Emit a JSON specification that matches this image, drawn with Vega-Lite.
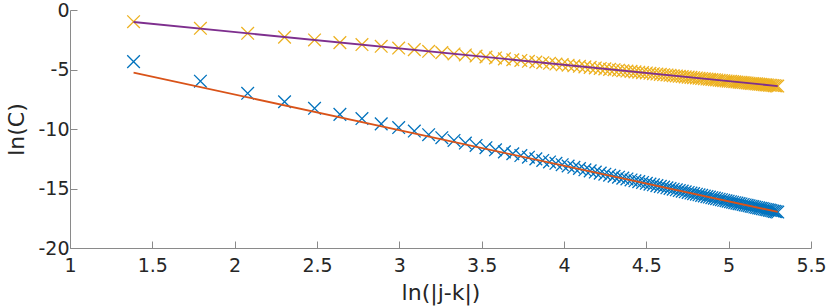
{
  "$schema": "https://vega.github.io/schema/vega-lite/v6.json",
  "width": 741,
  "height": 238,
  "autosize": {"type": "none"},
  "padding": {"left": 70, "top": 10, "right": 19, "bottom": 58},
  "background": "white",
  "config": {
    "view": {"stroke": null},
    "font": "DejaVu Sans",
    "axis": {
      "grid": false,
      "domainColor": "#8a8a8a",
      "tickColor": "#8a8a8a",
      "domainWidth": 1,
      "tickWidth": 1,
      "tickSize": -7,
      "labelFont": "DejaVu Sans",
      "labelFontSize": 19,
      "labelColor": "#262626",
      "titleFont": "DejaVu Sans",
      "titleFontSize": 22,
      "titleFontWeight": "normal",
      "titleColor": "#262626",
      "labelFlush": false,
      "labelOverlap": false
    }
  },
  "datasets": {
    "pts": [
      {"x":1.386,"y":-4.34,"s":"A"},{"x":1.792,"y":-5.98,"s":"A"},{"x":2.079,"y":-7.00,"s":"A"},{"x":2.303,"y":-7.71,"s":"A"},{"x":2.485,"y":-8.26,"s":"A"},{"x":2.639,"y":-8.77,"s":"A"},{"x":2.773,"y":-9.12,"s":"A"},{"x":2.890,"y":-9.57,"s":"A"},{"x":2.996,"y":-9.88,"s":"A"},{"x":3.091,"y":-10.17,"s":"A"},
      {"x":3.178,"y":-10.48,"s":"A"},{"x":3.258,"y":-10.73,"s":"A"},{"x":3.332,"y":-10.96,"s":"A"},{"x":3.401,"y":-11.18,"s":"A"},{"x":3.466,"y":-11.38,"s":"A"},{"x":3.526,"y":-11.57,"s":"A"},{"x":3.584,"y":-11.75,"s":"A"},{"x":3.638,"y":-11.92,"s":"A"},{"x":3.689,"y":-12.08,"s":"A"},{"x":3.738,"y":-12.23,"s":"A"},
      {"x":3.784,"y":-12.37,"s":"A"},{"x":3.829,"y":-12.51,"s":"A"},{"x":3.871,"y":-12.64,"s":"A"},{"x":3.912,"y":-12.77,"s":"A"},{"x":3.951,"y":-12.88,"s":"A"},{"x":3.989,"y":-13.00,"s":"A"},{"x":4.025,"y":-13.11,"s":"A"},{"x":4.060,"y":-13.22,"s":"A"},{"x":4.094,"y":-13.32,"s":"A"},{"x":4.127,"y":-13.43,"s":"A"},
      {"x":4.159,"y":-13.52,"s":"A"},{"x":4.190,"y":-13.62,"s":"A"},{"x":4.220,"y":-13.71,"s":"A"},{"x":4.248,"y":-13.80,"s":"A"},{"x":4.277,"y":-13.88,"s":"A"},{"x":4.304,"y":-13.97,"s":"A"},{"x":4.331,"y":-14.05,"s":"A"},{"x":4.357,"y":-14.13,"s":"A"},{"x":4.382,"y":-14.20,"s":"A"},{"x":4.407,"y":-14.28,"s":"A"},
      {"x":4.431,"y":-14.35,"s":"A"},{"x":4.454,"y":-14.42,"s":"A"},{"x":4.477,"y":-14.49,"s":"A"},{"x":4.500,"y":-14.56,"s":"A"},{"x":4.522,"y":-14.63,"s":"A"},{"x":4.543,"y":-14.69,"s":"A"},{"x":4.564,"y":-14.76,"s":"A"},{"x":4.585,"y":-14.82,"s":"A"},{"x":4.605,"y":-14.88,"s":"A"},{"x":4.625,"y":-14.94,"s":"A"},
      {"x":4.644,"y":-15.00,"s":"A"},{"x":4.663,"y":-15.06,"s":"A"},{"x":4.682,"y":-15.11,"s":"A"},{"x":4.700,"y":-15.17,"s":"A"},{"x":4.718,"y":-15.22,"s":"A"},{"x":4.736,"y":-15.28,"s":"A"},{"x":4.754,"y":-15.33,"s":"A"},{"x":4.771,"y":-15.38,"s":"A"},{"x":4.787,"y":-15.43,"s":"A"},{"x":4.804,"y":-15.48,"s":"A"},
      {"x":4.820,"y":-15.53,"s":"A"},{"x":4.836,"y":-15.58,"s":"A"},{"x":4.852,"y":-15.63,"s":"A"},{"x":4.868,"y":-15.68,"s":"A"},{"x":4.883,"y":-15.72,"s":"A"},{"x":4.898,"y":-15.77,"s":"A"},{"x":4.913,"y":-15.81,"s":"A"},{"x":4.927,"y":-15.86,"s":"A"},{"x":4.942,"y":-15.90,"s":"A"},{"x":4.956,"y":-15.94,"s":"A"},
      {"x":4.970,"y":-15.99,"s":"A"},{"x":4.984,"y":-16.03,"s":"A"},{"x":4.997,"y":-16.07,"s":"A"},{"x":5.011,"y":-16.11,"s":"A"},{"x":5.024,"y":-16.15,"s":"A"},{"x":5.037,"y":-16.19,"s":"A"},{"x":5.050,"y":-16.23,"s":"A"},{"x":5.063,"y":-16.27,"s":"A"},{"x":5.075,"y":-16.30,"s":"A"},{"x":5.088,"y":-16.34,"s":"A"},
      {"x":5.100,"y":-16.38,"s":"A"},{"x":5.112,"y":-16.41,"s":"A"},{"x":5.124,"y":-16.45,"s":"A"},{"x":5.136,"y":-16.49,"s":"A"},{"x":5.147,"y":-16.52,"s":"A"},{"x":5.159,"y":-16.56,"s":"A"},{"x":5.170,"y":-16.59,"s":"A"},{"x":5.182,"y":-16.63,"s":"A"},{"x":5.193,"y":-16.66,"s":"A"},{"x":5.204,"y":-16.69,"s":"A"},
      {"x":5.215,"y":-16.73,"s":"A"},{"x":5.226,"y":-16.76,"s":"A"},{"x":5.236,"y":-16.79,"s":"A"},{"x":5.247,"y":-16.82,"s":"A"},{"x":5.257,"y":-16.85,"s":"A"},{"x":5.268,"y":-16.89,"s":"A"},{"x":5.278,"y":-16.92,"s":"A"},{"x":5.288,"y":-16.95,"s":"A"},{"x":5.298,"y":-16.98,"s":"A"},
      {"x":1.386,"y":-0.98,"s":"B"},{"x":1.792,"y":-1.54,"s":"B"},{"x":2.079,"y":-1.96,"s":"B"},{"x":2.303,"y":-2.28,"s":"B"},{"x":2.485,"y":-2.52,"s":"B"},{"x":2.639,"y":-2.74,"s":"B"},{"x":2.773,"y":-2.90,"s":"B"},{"x":2.890,"y":-3.05,"s":"B"},{"x":2.996,"y":-3.20,"s":"B"},{"x":3.091,"y":-3.33,"s":"B"},
      {"x":3.178,"y":-3.47,"s":"B"},{"x":3.258,"y":-3.58,"s":"B"},{"x":3.332,"y":-3.69,"s":"B"},{"x":3.401,"y":-3.78,"s":"B"},{"x":3.466,"y":-3.87,"s":"B"},{"x":3.526,"y":-3.95,"s":"B"},{"x":3.584,"y":-4.03,"s":"B"},{"x":3.638,"y":-4.11,"s":"B"},{"x":3.689,"y":-4.18,"s":"B"},{"x":3.738,"y":-4.24,"s":"B"},
      {"x":3.784,"y":-4.31,"s":"B"},{"x":3.829,"y":-4.37,"s":"B"},{"x":3.871,"y":-4.43,"s":"B"},{"x":3.912,"y":-4.48,"s":"B"},{"x":3.951,"y":-4.54,"s":"B"},{"x":3.989,"y":-4.59,"s":"B"},{"x":4.025,"y":-4.64,"s":"B"},{"x":4.060,"y":-4.69,"s":"B"},{"x":4.094,"y":-4.73,"s":"B"},{"x":4.127,"y":-4.78,"s":"B"},
      {"x":4.159,"y":-4.82,"s":"B"},{"x":4.190,"y":-4.87,"s":"B"},{"x":4.220,"y":-4.91,"s":"B"},{"x":4.248,"y":-4.95,"s":"B"},{"x":4.277,"y":-4.99,"s":"B"},{"x":4.304,"y":-5.02,"s":"B"},{"x":4.331,"y":-5.06,"s":"B"},{"x":4.357,"y":-5.10,"s":"B"},{"x":4.382,"y":-5.13,"s":"B"},{"x":4.407,"y":-5.16,"s":"B"},
      {"x":4.431,"y":-5.20,"s":"B"},{"x":4.454,"y":-5.23,"s":"B"},{"x":4.477,"y":-5.26,"s":"B"},{"x":4.500,"y":-5.29,"s":"B"},{"x":4.522,"y":-5.32,"s":"B"},{"x":4.543,"y":-5.35,"s":"B"},{"x":4.564,"y":-5.38,"s":"B"},{"x":4.585,"y":-5.41,"s":"B"},{"x":4.605,"y":-5.44,"s":"B"},{"x":4.625,"y":-5.46,"s":"B"},
      {"x":4.644,"y":-5.49,"s":"B"},{"x":4.663,"y":-5.52,"s":"B"},{"x":4.682,"y":-5.54,"s":"B"},{"x":4.700,"y":-5.57,"s":"B"},{"x":4.718,"y":-5.59,"s":"B"},{"x":4.736,"y":-5.62,"s":"B"},{"x":4.754,"y":-5.64,"s":"B"},{"x":4.771,"y":-5.66,"s":"B"},{"x":4.787,"y":-5.69,"s":"B"},{"x":4.804,"y":-5.71,"s":"B"},
      {"x":4.820,"y":-5.73,"s":"B"},{"x":4.836,"y":-5.75,"s":"B"},{"x":4.852,"y":-5.78,"s":"B"},{"x":4.868,"y":-5.80,"s":"B"},{"x":4.883,"y":-5.82,"s":"B"},{"x":4.898,"y":-5.84,"s":"B"},{"x":4.913,"y":-5.86,"s":"B"},{"x":4.927,"y":-5.88,"s":"B"},{"x":4.942,"y":-5.90,"s":"B"},{"x":4.956,"y":-5.92,"s":"B"},
      {"x":4.970,"y":-5.94,"s":"B"},{"x":4.984,"y":-5.96,"s":"B"},{"x":4.997,"y":-5.98,"s":"B"},{"x":5.011,"y":-5.99,"s":"B"},{"x":5.024,"y":-6.01,"s":"B"},{"x":5.037,"y":-6.03,"s":"B"},{"x":5.050,"y":-6.05,"s":"B"},{"x":5.063,"y":-6.07,"s":"B"},{"x":5.075,"y":-6.08,"s":"B"},{"x":5.088,"y":-6.10,"s":"B"},
      {"x":5.100,"y":-6.12,"s":"B"},{"x":5.112,"y":-6.13,"s":"B"},{"x":5.124,"y":-6.15,"s":"B"},{"x":5.136,"y":-6.17,"s":"B"},{"x":5.147,"y":-6.18,"s":"B"},{"x":5.159,"y":-6.20,"s":"B"},{"x":5.170,"y":-6.21,"s":"B"},{"x":5.182,"y":-6.23,"s":"B"},{"x":5.193,"y":-6.24,"s":"B"},{"x":5.204,"y":-6.26,"s":"B"},
      {"x":5.215,"y":-6.28,"s":"B"},{"x":5.226,"y":-6.29,"s":"B"},{"x":5.236,"y":-6.30,"s":"B"},{"x":5.247,"y":-6.32,"s":"B"},{"x":5.257,"y":-6.33,"s":"B"},{"x":5.268,"y":-6.35,"s":"B"},{"x":5.278,"y":-6.36,"s":"B"},{"x":5.288,"y":-6.38,"s":"B"},{"x":5.298,"y":-6.39,"s":"B"}
    ],
    "fit": [
      {"x":1.386,"y":-5.27,"s":"fitA"},{"x":5.298,"y":-16.97,"s":"fitA"},
      {"x":1.386,"y":-1.01,"s":"fitB"},{"x":5.298,"y":-6.39,"s":"fitB"}
    ]
  },
  "encoding": {
    "x": {
      "field": "x", "type": "quantitative",
      "scale": {"domain": [1, 5.5], "nice": false, "zero": false},
      "axis": {"title": "ln(|j-k|)", "values": [1, 1.5, 2, 2.5, 3, 3.5, 4, 4.5, 5, 5.5], "format": "~g", "labelPadding": 15, "titlePadding": 7}
    },
    "y": {
      "field": "y", "type": "quantitative",
      "scale": {"domain": [-20, 0], "nice": false, "zero": false},
      "axis": {"title": "ln(C)", "values": [-20, -15, -10, -5, 0], "labelExpr": "datum.value == 0 ? '0' : '-' + format(-datum.value, '~g')", "labelPadding": 8, "titlePadding": 9}
    },
    "color": {
      "field": "s", "type": "nominal",
      "scale": {"domain": ["A", "B", "fitA", "fitB"], "range": ["#0072BD", "#EDB120", "#D95319", "#7E2F8E"]},
      "legend": null
    }
  },
  "layer": [
    {
      "data": {"name": "pts"},
      "mark": {"type": "point", "shape": "M-1,-1L1,1M-1,1L1,-1", "filled": false, "size": 160, "strokeWidth": 1.3, "opacity": 1}
    },
    {
      "data": {"name": "fit"},
      "mark": {"type": "line", "strokeWidth": 1.8},
      "encoding": {"detail": {"field": "s"}}
    }
  ]
}
